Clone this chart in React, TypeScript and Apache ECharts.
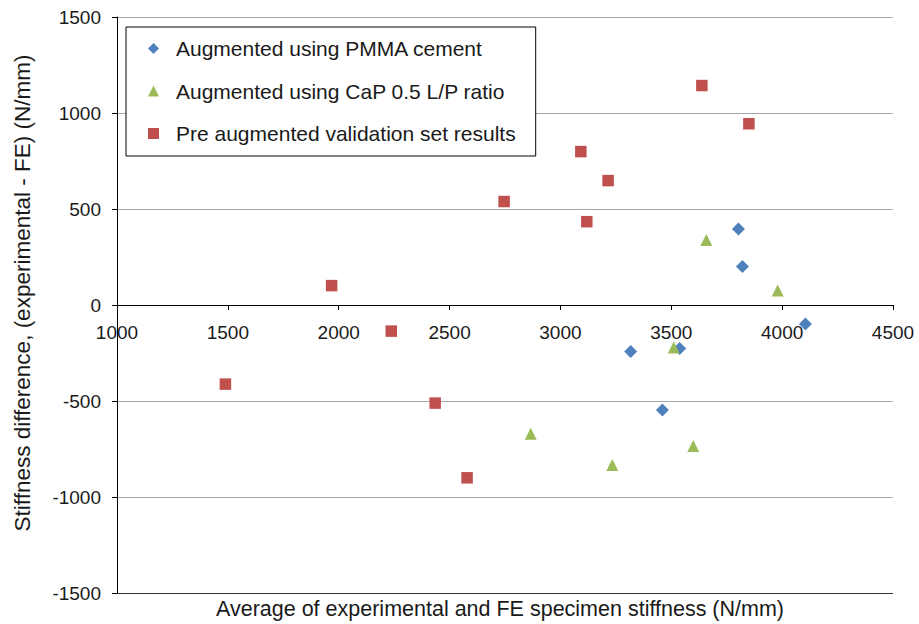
import React, { useEffect, useRef } from "react";
import * as echarts from "echarts";

const seriesNames = [
  "Augmented using PMMA cement",
  "Augmented using CaP 0.5 L/P ratio",
  "Pre augmented validation set results",
];

const pmmaX = [3317, 3538, 3460, 3803, 3821, 4105];
const pmmaY = [-242, -226, -547, 396, 200, -99];

const capX = [2866, 3234, 3511, 3599, 3658, 3980];
const capY = [-671, -833, -221, -734, 339, 75];

const preX = [1489, 1968, 2237, 2435, 2579, 2746, 3092, 3119, 3215, 3638, 3850];
const preY = [-412, 101, -136, -511, -900, 539, 799, 434, 648, 1143, 944];

const xTitle = "Average of experimental and FE specimen stiffness (N/mm)";
const yTitle = "Stiffness difference, (experimental - FE) (N/mm)";

const FONT = "'Liberation Sans', Arial, Helvetica, sans-serif";
const TXT = "#1a1a1a";

const GRID_TOP = 17;
const GRID_BOTTOM = 31;
const CHART_H = 624;
const Y_MIN = -1500;
const Y_MAX = 1500;

const zip = (xs: number[], ys: number[]) => xs.map((x, i) => [x, ys[i]]);

export default function App() {
  const ref = useRef<HTMLDivElement>(null);
  useEffect(() => {
    if (!ref.current) return;
    const chart = echarts.init(ref.current, null, { renderer: "svg" });
    const plotH = CHART_H - GRID_TOP - GRID_BOTTOM;
    // move x axis from the bottom up to y = 0
    const zeroOffset = -plotH * ((0 - Y_MIN) / (Y_MAX - Y_MIN));
    chart.setOption({
      animation: false,
      backgroundColor: "#ffffff",
      textStyle: { fontFamily: FONT },
      grid: { left: 117, right: 26, top: GRID_TOP, bottom: GRID_BOTTOM, containLabel: false },
      xAxis: {
        type: "value",
        min: 1000,
        max: 4500,
        interval: 500,
        position: "bottom",
        offset: zeroOffset,
        axisLine: { show: true, onZero: false, lineStyle: { color: "#000", width: 1 } },
        axisTick: { show: true, inside: false, length: 5, lineStyle: { color: "#000" } },
        axisLabel: {
          fontSize: 19,
          color: TXT,
          margin: 18,
          fontFamily: FONT,
          formatter: (v: number) => String(v),
        },
        splitLine: { show: false },
      },
      yAxis: {
        type: "value",
        min: Y_MIN,
        max: Y_MAX,
        interval: 500,
        axisLine: { show: true, onZero: false, lineStyle: { color: "#000", width: 1 } },
        axisTick: { show: true, inside: false, length: 5, lineStyle: { color: "#000" } },
        axisLabel: {
          fontSize: 19,
          color: TXT,
          margin: 16,
          fontFamily: FONT,
          formatter: (v: number) => String(v),
        },
        splitLine: {
          show: true,
          lineStyle: {
            color: ["#333333", "#a6a6a6", "#a6a6a6", "#000000", "#a6a6a6", "#a6a6a6", "#a6a6a6"],
            width: 1,
          },
        },
      },
      legend: {
        left: 126,
        top: 27,
        orient: "vertical",
        itemWidth: 11,
        itemHeight: 11,
        itemGap: 21.5,
        padding: [11, 20, 12, 22],
        borderColor: "#000",
        borderWidth: 1,
        backgroundColor: "#fff",
        textStyle: { fontSize: 21, color: TXT, fontFamily: FONT, padding: [0, 0, 0, 12] },
        data: seriesNames,
      },
      series: [
        {
          name: seriesNames[0],
          type: "scatter",
          symbol: "diamond",
          symbolSize: 13,
          itemStyle: { color: "#4F81BD", opacity: 1 },
          data: zip(pmmaX, pmmaY),
        },
        {
          name: seriesNames[1],
          type: "scatter",
          symbol: "triangle",
          symbolSize: 12,
          itemStyle: { color: "#9BBB59", opacity: 1 },
          data: zip(capX, capY),
        },
        {
          name: seriesNames[2],
          type: "scatter",
          symbol: "rect",
          symbolSize: 11.5,
          itemStyle: { color: "#C0504D", opacity: 1 },
          data: zip(preX, preY),
        },
      ],
      graphic: [
        {
          type: "text",
          x: 500,
          y: 609,
          style: {
            text: xTitle,
            fontSize: 21.5,
            fontFamily: FONT,
            fill: TXT,
            align: "center",
            verticalAlign: "middle",
          },
        },
        {
          type: "text",
          x: 22,
          y: 293,
          rotation: Math.PI / 2,
          style: {
            text: yTitle,
            fontSize: 22.5,
            fontFamily: FONT,
            fill: TXT,
            align: "center",
            verticalAlign: "middle",
          },
        },
      ],
    });
    return () => chart.dispose();
  }, []);
  return (
    <div
      ref={ref}
      style={{ position: "fixed", left: 0, top: 0, width: 919, height: 624, background: "#fff" }}
    />
  );
}
